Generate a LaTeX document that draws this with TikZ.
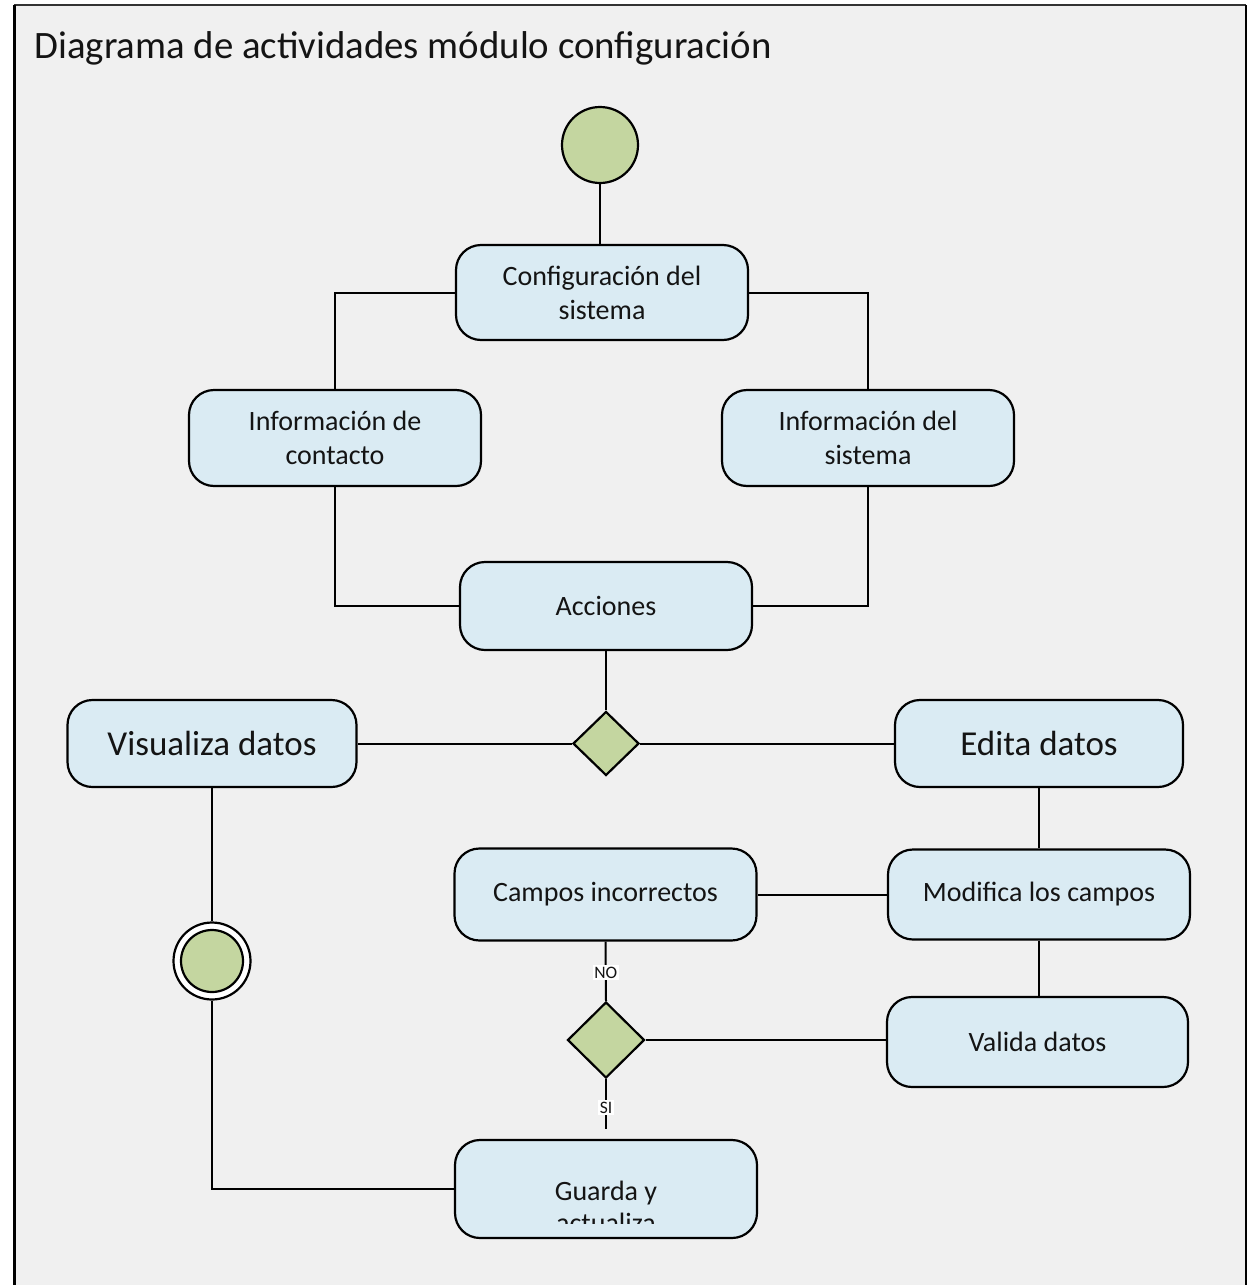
\documentclass[tikz,border=0pt]{standalone}
\usepackage{fontspec}
\setmainfont{Carlito}
\usetikzlibrary{shapes.geometric}
\definecolor{boxblue}{RGB}{218,235,243}
\definecolor{nodegreen}{RGB}{196,214,160}
\definecolor{panel}{RGB}{240,240,240}
\definecolor{ink}{RGB}{20,20,20}
\tikzset{
  activity/.style={draw=black, line width=2.2pt, fill=boxblue, rounded corners=25pt,
    align=center, inner sep=0pt, text=ink, font=\fontsize{28}{34}\selectfont},
  bigactivity/.style={activity, font=\fontsize{35}{42}\selectfont},
  decision/.style={diamond, draw=black, line width=2.2pt, fill=nodegreen, inner sep=0pt},
  flow/.style={draw=black, line width=2pt},
  guard/.style={fill=white, inner sep=1.5pt, text=ink, font=\fontsize{17.5}{19}\selectfont},
}
\begin{document}
\begin{tikzpicture}[x=1pt,y=-1pt]
\useasboundingbox (0,0) rectangle (1248,1285);
% panel
\fill[panel] (14,5) rectangle (1246,1290);
\draw[line width=1.5pt, black!80] (14,5) -- (1246,5);
\draw[line width=3pt] (14,5) -- (14,1290);
\draw[line width=2.5pt] (1246,5) -- (1246,1290);

\node[anchor=base west, text=ink, font=\fontsize{38.8}{44}\selectfont] (title) at (31,58) {Diagrama de actividades módulo configuración};

% initial node
\node[circle, draw=black, line width=2.2pt, fill=nodegreen, minimum size=76pt, inner sep=0pt] (start) at (600,145) {};

% activities
\node[activity, minimum width=292pt, minimum height=95pt] (config) at (602,292.5) {Configuración del\\sistema};
\node[activity, minimum width=292pt, minimum height=96pt] (infoc) at (335,438) {Información de\\contacto};
\node[activity, minimum width=292pt, minimum height=96pt] (infos) at (868,438) {Información del\\sistema};
\node[activity, minimum width=292pt, minimum height=88pt] (acc) at (606,606) {Acciones};
\node[decision, minimum width=66pt, minimum height=64pt] (d1) at (606,743.5) {};
\node[bigactivity, minimum width=289pt, minimum height=87pt] (vis) at (212,743.5) {Visualiza datos};
\node[bigactivity, minimum width=288pt, minimum height=87pt] (edi) at (1039,743.5) {Edita datos};
\node[activity, minimum width=302pt, minimum height=92pt] (campos) at (605.5,894.5) {Campos incorrectos};
\node[activity, minimum width=302pt, minimum height=90pt] (mod) at (1039,894.5) {Modifica los campos};
\node[activity, minimum width=301pt, minimum height=90pt] (val) at (1037.5,1042) {Valida datos};
\node[decision, minimum width=77pt, minimum height=76pt] (d2) at (606,1040) {};
\node[activity, minimum width=302pt, minimum height=98pt] (gua) at (606,1189) {};
\begin{scope}
  \clip (455,1140) rectangle (757,1223);
  \node[align=center, text=ink, font=\fontsize{28}{32}\selectfont] (guatext) at (606,1207) {Guarda y\\actualiza};
\end{scope}

% final node
\node[circle, draw=black, line width=2.2pt, fill=white, minimum size=77pt, inner sep=0pt] (fin) at (212,961) {};
\node[circle, draw=black, line width=2.2pt, fill=nodegreen, minimum size=62pt, inner sep=0pt] (finin) at (fin.center) {};

% control flows
\coordinate (siend) at (606,1129);
\draw[flow] (start.south) -- (start.south |- config.north);
\draw[flow] (config.west) -| (infoc.north);
\draw[flow] (config.east) -| (infos.north);
\draw[flow] (infoc.south) |- (acc.west);
\draw[flow] (infos.south) |- (acc.east);
\draw[flow] (acc.south) -- (d1.north);
\draw[flow] (d1.west) -- (vis.east);
\draw[flow] (d1.east) -- (edi.west);
\draw[flow] (vis.south) -- (fin.north);
\draw[flow] (fin.south) |- (gua.west);
\draw[flow] (edi.south) -- (mod.north);
\draw[flow] (mod.west) -- (campos.east);
\draw[flow] (mod.south) -- (mod.south |- val.north);
\draw[flow] (d2.east) -- (d2.east -| val.west);
\draw[flow] (campos.south) -- node[guard, pos=0.52] (no) {NO} (d2.north);
\draw[flow] (d2.south) -- node[guard, pos=0.57] (si) {SI} (siend);
\end{tikzpicture}
\end{document}
